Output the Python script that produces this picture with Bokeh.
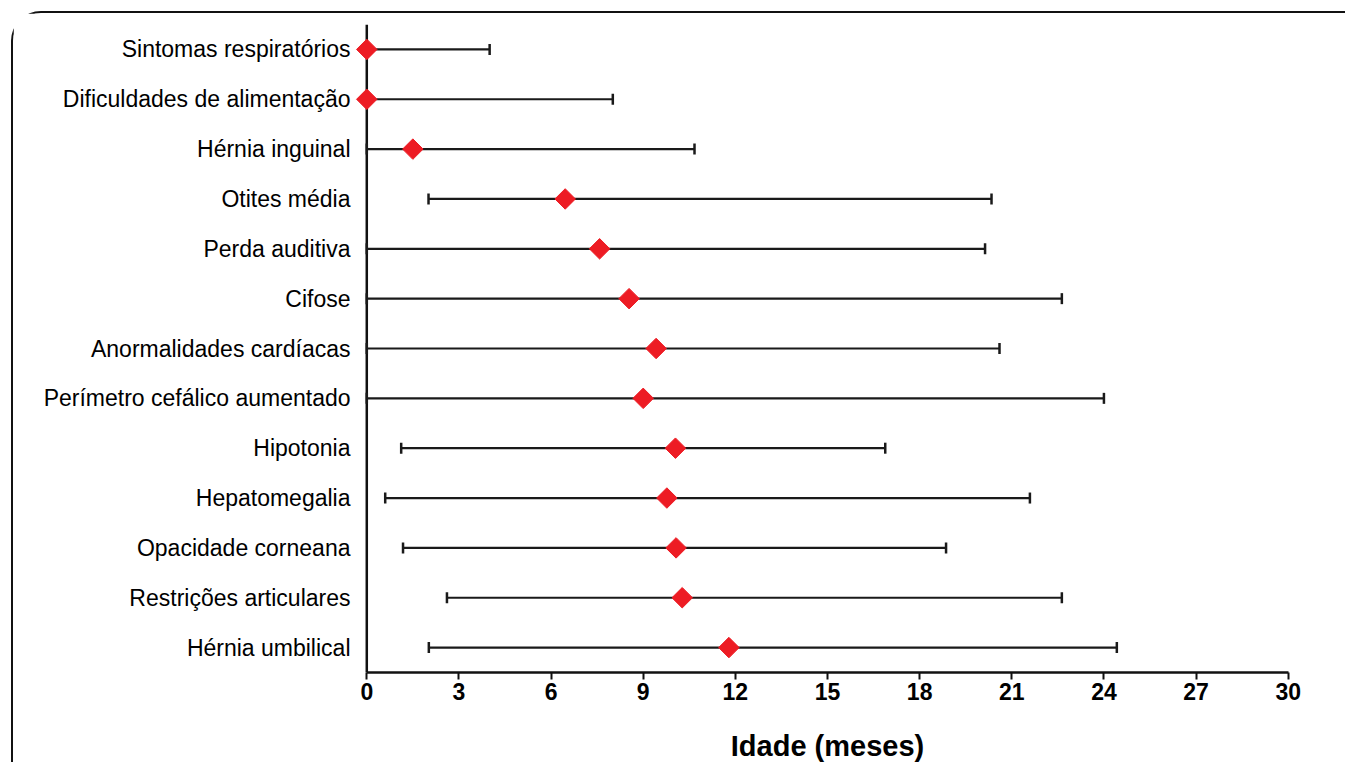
import math
from bokeh.plotting import figure
from bokeh.models import FactorRange, FixedTicker, Span
from bokeh.embed import file_html
from bokeh.resources import INLINE

categories = [
    "Sintomas respiratórios",
    "Dificuldades de alimentação",
    "Hérnia inguinal",
    "Otites média",
    "Perda auditiva",
    "Cifose",
    "Anormalidades cardíacas",
    "Perímetro cefálico aumentado",
    "Hipotonia",
    "Hepatomegalia",
    "Opacidade corneana",
    "Restrições articulares",
    "Hérnia umbilical",
]
median_age = [0.0, 0.0, 1.5, 6.46, 7.58, 8.54, 9.42, 9.0, 10.05, 9.77, 10.07, 10.27, 11.79]
min_age = [0.0, 0.0, 0.0, 2.01, 0.0, 0.0, 0.0, 0.0, 1.12, 0.60, 1.18, 2.61, 2.02]
max_age = [4.0, 8.01, 10.67, 20.34, 20.13, 22.63, 20.60, 24.0, 16.88, 21.59, 18.86, 22.63, 24.42]
x_ticks = [0, 3, 6, 9, 12, 15, 18, 21, 24, 27, 30]

p = figure(
    width=1334, height=751,
    x_range=(-0.4, 30.4),
    y_range=FactorRange(factors=categories[::-1]),
    output_backend="svg",
    toolbar_location=None,
    min_border_left=341, min_border_right=47,
    min_border_top=11, min_border_bottom=92,
)
p.styles = {
    "margin-left": "11px",
    "margin-top": "11px",
    "border-top": "2px solid #111111",
    "border-left": "2px solid #111111",
    "border-top-left-radius": "30px",
}
p.outline_line_color = None
p.background_fill_color = "white"
p.border_fill_color = "white"
p.xgrid.visible = False
p.ygrid.visible = False

# visible y-axis line at x = 0 (beneath the markers)
p.add_layout(Span(location=0, dimension="height", line_color="#111111",
                  line_width=2.5, level="underlay"))

# error bars
p.segment(x0=min_age, y0=categories, x1=max_age, y1=categories,
          line_color="#1a1a1a", line_width=2.2)
p.scatter(x=min_age, y=categories, marker="dash", angle=math.pi / 2, size=11,
          line_color="#1a1a1a", line_width=2.5)
p.scatter(x=max_age, y=categories, marker="dash", angle=math.pi / 2, size=11,
          line_color="#1a1a1a", line_width=2.5)
# medians
p.scatter(x=median_age, y=categories, marker="square", angle=math.pi / 4, size=14.5,
          fill_color="#ED1C24", line_color="#ED1C24", line_width=1)

# x axis
xa = p.xaxis[0]
xa.bounds = (0, 30)
xa.ticker = FixedTicker(ticks=x_ticks)
xa.minor_tick_line_color = None
xa.major_tick_out = 7
xa.major_tick_in = 0
xa.major_tick_line_width = 2
xa.major_tick_line_color = "#111111"
xa.axis_line_width = 2.5
xa.axis_line_color = "#111111"
xa.major_label_text_font = "Liberation Sans"
xa.major_label_text_font_style = "bold"
xa.major_label_text_font_size = "23px"
xa.major_label_text_color = "#000000"
xa.major_label_standoff = 3
xa.axis_label = "Idade (meses)"
xa.axis_label_text_font = "Liberation Sans"
xa.axis_label_text_font_style = "bold"
xa.axis_label_text_font_size = "29px"
xa.axis_label_text_color = "#000000"
xa.axis_label_standoff = 27

# y axis (labels only; its line is the span at x = 0)
ya = p.yaxis[0]
ya.major_tick_line_color = None
ya.minor_tick_line_color = None
ya.major_tick_out = 0
ya.major_tick_in = 0
ya.axis_line_color = None
ya.major_label_text_font = "Liberation Sans"
ya.major_label_text_font_size = "23px"
ya.major_label_text_color = "#000000"
ya.major_label_standoff = 4

open("out.html", "w").write(file_html(p, INLINE))
